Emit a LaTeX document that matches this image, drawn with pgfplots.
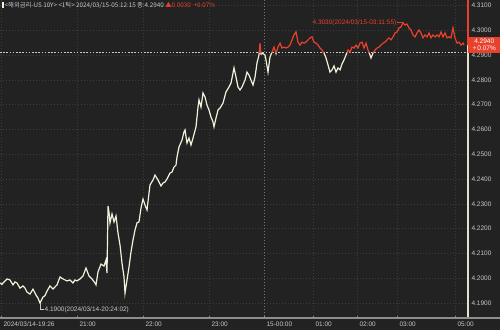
\documentclass[border=0pt]{standalone}
\usepackage{pgfplots}
\pgfplotsset{compat=1.18}
\usepackage{pgfplotstable}
\usepackage{fontspec}
\setmainfont{Liberation Sans}
\newfontfamily\kr{Noto Sans CJK KR}
\definecolor{bg}{HTML}{222222}
\definecolor{lw}{HTML}{F2F2DC}
\definecolor{lr}{HTML}{E8412C}
\definecolor{gridc}{HTML}{3C3C3C}
\definecolor{txt}{HTML}{C8C8C8}
\definecolor{axc}{HTML}{8E8E8E}

\pgfplotstableread{
x y
0 4.1981
2 4.1975
3 4.1981
5 4.1989
7 4.1997
10 4.1993
13 4.1973
15 4.1985
17 4.1981
20 4.1960
23 4.1969
25 4.1960
27 4.1944
30 4.1936
33 4.1956
36 4.1932
38 4.1920
40 4.1900
43 4.1924
45 4.1930
47 4.1948
50 4.1969
53 4.1956
55 4.1965
57 4.1973
60 4.2005
63 4.1997
67 4.1989
70 4.1993
73 4.1981
75 4.1993
77 4.1989
80 4.1997
83 4.2009
86 4.2041
89 4.2009
92 4.1997
95 4.1981
96 4.1973
98 4.2025
101 4.2057
104 4.2049
106 4.2073
107 4.2021
108 4.2291
109 4.2267
110 4.2223
112 4.2259
114 4.2227
116 4.2251
118 4.2182
120 4.2134
122 4.2061
124 4.2005
125 4.1940
127 4.1993
129 4.2045
131 4.2106
133 4.2154
135 4.2194
137 4.2223
139 4.2227
141 4.2283
143 4.2319
145 4.2295
147 4.2275
150 4.2376
153 4.2396
155 4.2416
158 4.2396
161 4.2372
163 4.2384
165 4.2388
167 4.2400
170 4.2424
172 4.2428
174 4.2448
176 4.2456
177 4.2489
179 4.2529
182 4.2557
184 4.2590
185 4.2598
187 4.2545
189 4.2565
191 4.2537
193 4.2565
196 4.2610
198 4.2690
199 4.2719
201 4.2690
203 4.2747
205 4.2731
207 4.2698
209 4.2678
211 4.2650
213 4.2630
214 4.2610
216 4.2646
218 4.2678
220 4.2686
223 4.2706
226 4.2751
229 4.2771
231 4.2787
233 4.2827
234 4.2848
236 4.2811
238 4.2771
240 4.2759
242 4.2771
245 4.2799
247 4.2831
249 4.2819
251 4.2799
253 4.2779
255 4.2811
257 4.2868
259 4.2900
260 4.2948
261 4.2904
263 4.2906
265 4.2900
266 4.2880
268 4.2831
270 4.2892
272 4.2912
274 4.2932
276 4.2906
278 4.2932
280 4.2948
282 4.2928
284 4.2932
286 4.2928
288 4.2932
290 4.2940
292 4.2961
294 4.2981
296 4.2993
298 4.2952
300 4.2940
302 4.2952
304 4.2948
306 4.2952
308 4.2961
310 4.2969
312 4.2973
314 4.2952
316 4.2948
318 4.2940
320 4.2928
322 4.2920
324 4.2908
326 4.2888
328 4.2860
330 4.2831
332 4.2840
334 4.2856
336 4.2831
338 4.2848
340 4.2840
342 4.2864
344 4.2880
346 4.2900
348 4.2920
350 4.2912
352 4.2932
354 4.2928
356 4.2940
358 4.2928
360 4.2948
362 4.2952
364 4.2928
366 4.2948
368 4.2920
370 4.2900
371 4.2888
373 4.2908
375 4.2920
377 4.2928
379 4.2932
381 4.2940
383 4.2948
385 4.2952
387 4.2961
389 4.2969
391 4.2961
393 4.2973
395 4.2989
397 4.2993
399 4.3009
401 4.3013
403 4.3030
405 4.3021
407 4.3025
409 4.3009
411 4.3001
413 4.2981
415 4.2973
417 4.2989
419 4.3001
421 4.2989
423 4.2969
425 4.2981
427 4.2973
429 4.2989
431 4.2969
433 4.2981
435 4.2973
437 4.2981
439 4.2973
441 4.2993
443 4.2973
445 4.2989
447 4.2969
449 4.2973
451 4.2969
453 4.3009
455 4.2969
457 4.2948
459 4.2952
461 4.2940
463 4.2948
464 4.2940
}\ticks

\begin{document}
\begin{tikzpicture}
\fill[bg] (0,0) rectangle (500pt,330pt);
\useasboundingbox (0,0) rectangle (500pt,330pt);
\begin{axis}[
  at={(0pt,14pt)}, anchor=south west,
  scale only axis, width=467pt, height=316pt,
  xmin=0, xmax=467, ymin=4.18476, ymax=4.31218,
  axis line style={draw=none},
  clip=false,
  ytick={4.19,4.20,4.21,4.22,4.23,4.24,4.25,4.26,4.27,4.28,4.29,4.30,4.31},
  ytick pos=right, yticklabel pos=right,
  xtick pos=left,
  tick align=outside, major tick length=2pt,
  tick style={axc, line width=0.6pt},
  yticklabel style={font=\fontsize{6.5}{7}\selectfont, text=txt, anchor=west, xshift=-1pt,
    /pgf/number format/.cd, fixed, fixed zerofill, precision=4, assume math mode=true},
  xtick={1,77,143,209,264,313,357,397,455},
  xticklabels={2024/03/14-19:26,21:00,22:00,23:00,15-00:00,01:00,02:00,03:00,05:00},
  xticklabel style={font=\fontsize{6.5}{7}\selectfont, text=txt, anchor=north west, xshift=-1pt, yshift=0pt},
  xmajorgrids, ymajorgrids,
  grid style={gridc, dash pattern=on 1.2pt off 1.8pt, line width=0.6pt},
]
% day boundary
\draw[gridc!60!txt, dash pattern=on 1.2pt off 1.8pt, line width=0.6pt] (axis cs:264,4.18476) -- (axis cs:264,4.31218);
% previous close
\draw[txt, dash pattern=on 1.6pt off 1.6pt, line width=0.8pt] (axis cs:0,4.291) -- (axis cs:467,4.291);
% series
\begin{scope}
\clip (axis cs:-5,4.18) rectangle (axis cs:467,4.291);
\addplot[lw, line width=1.2pt] table[x=x,y=y] {\ticks};
\end{scope}
\begin{scope}
\clip (axis cs:-5,4.291) rectangle (axis cs:467,4.32);
\addplot[lr, line width=1.2pt] table[x=x,y=y] {\ticks};
\end{scope}
% right axis line
\draw[lw!85!gray, line width=1.5pt] (axis cs:468,4.18416) -- (axis cs:468,4.2940);
\draw[lr, line width=1.5pt] (axis cs:468,4.2940) -- (axis cs:468,4.31218);
% bottom axis line
\draw[axc, line width=1.6pt] (axis cs:0,4.18400) -- ([xshift=33pt]axis cs:467,4.18400);
% price box
\node[fill=lr, text=white, anchor=west, inner sep=0pt, minimum width=32pt, minimum height=16pt,
  align=center, font=\fontsize{6.5}{7}\selectfont] at (axis cs:468,4.2940) {4.2940\\+\,0.07\%};
% max annotation
\draw[lr, line width=0.6pt] (axis cs:397,4.3030) -- (axis cs:403,4.3030);
\node[text=lr, anchor=east, inner sep=0.5pt, font=\fontsize{6.5}{7}\selectfont] at (axis cs:397,4.3030) {4.3030(2024/03/15-03:11:55)};
% min annotation
\draw[txt, line width=0.6pt] (axis cs:40,4.1900) |- (axis cs:44,4.1874);
\node[text=txt, anchor=west, inner sep=0.5pt, font=\fontsize{6.5}{7}\selectfont] at (axis cs:44,4.1874) {4.1900(2024/03/14-20:24:02)};
\end{axis}
% header
\node[anchor=west, inner sep=0pt, text=txt, font=\kr\fontsize{6.3}{7}\selectfont] at (2pt,325pt)
  {\textcolor{lw}{\rule[-0.5pt]{1.5pt}{5.5pt}}\,<해외금리-US 10Y> <1틱> 2024/03/15-05:12:15 종:4.2940 \textcolor{lr}{▲0.0030 \ +0.07\%}};
\end{tikzpicture}
\end{document}
